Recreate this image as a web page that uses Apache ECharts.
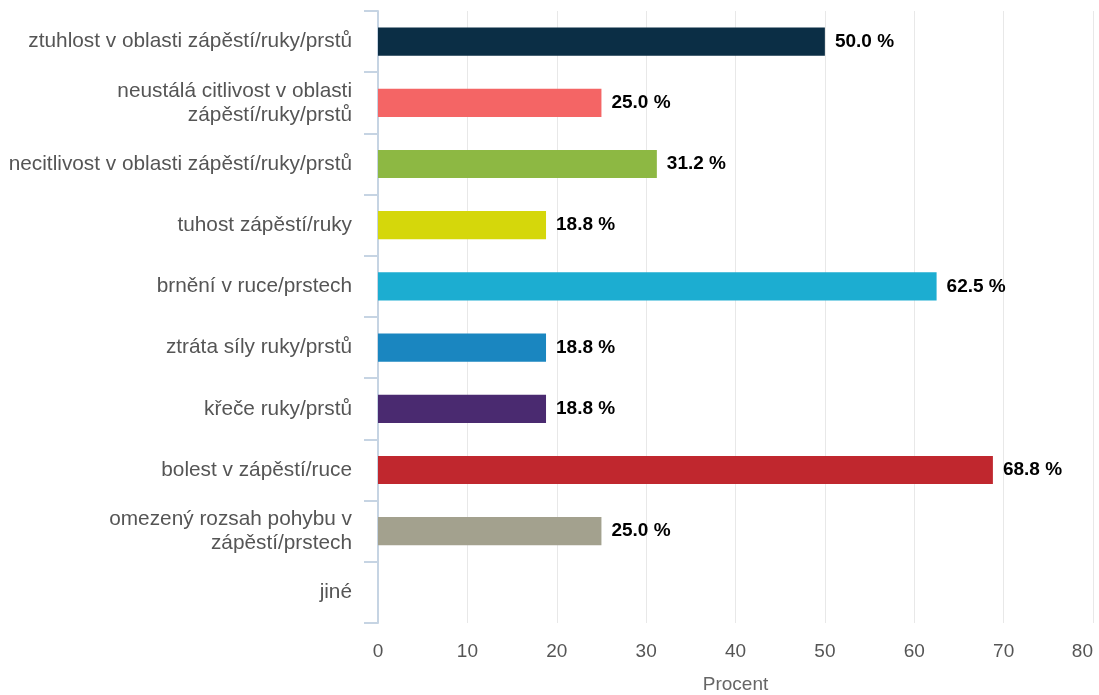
<!DOCTYPE html>
<html>
<head>
<meta charset="utf-8">
<script src="https://cdn.jsdelivr.net/npm/echarts@6/dist/echarts.min.js"></script>
<style>
  html, body { margin: 0; padding: 0; background: #fff; }
  #chart { width: 1099px; height: 695px; }
</style>
</head>
<body>
<div id="chart"></div>
<script>
// Symptoms reported (share of respondents, %)
const categories = [
  'ztuhlost v oblasti zápěstí/ruky/prstů',
  'neustálá citlivost v oblasti\nzápěstí/ruky/prstů',
  'necitlivost v oblasti zápěstí/ruky/prstů',
  'tuhost zápěstí/ruky',
  'brnění v ruce/prstech',
  'ztráta síly ruky/prstů',
  'křeče ruky/prstů',
  'bolest v zápěstí/ruce',
  'omezený rozsah pohybu v\nzápěstí/prstech',
  'jiné'
];
const values = [50.0, 25.0, 31.2, 18.8, 62.5, 18.8, 18.8, 68.8, 25.0, 0];
const barColors = [
  '#0b2e45', '#f46565', '#8db843', '#d5d70b', '#1cadd1',
  '#1a86c0', '#4a2a70', '#c0272e', '#a3a18e', '#999999'
];
const xTicks = { min: 0, max: 80, interval: 10 };
const axisTitle = 'Procent';

const FONT = 'Liberation Sans, Arial, sans-serif';

const chart = echarts.init(document.getElementById('chart'));
chart.setOption({
  animation: false,
  grid: { left: 378, right: 6, top: 11, bottom: 72, containLabel: false, outerBoundsMode: 'none' },
  xAxis: {
    type: 'value',
    min: xTicks.min, max: xTicks.max, interval: xTicks.interval,
    name: axisTitle,
    nameLocation: 'middle',
    nameGap: 52,
    nameTextStyle: { color: '#666', fontSize: 19, fontFamily: FONT },
    axisLine: { show: false },
    axisTick: { show: false },
    axisLabel: { color: '#555', fontSize: 19, margin: 19, fontFamily: FONT, alignMaxLabel: 'right' },
    splitLine: { show: true, lineStyle: { color: '#e8e8e8', width: 1 } }
  },
  yAxis: {
    type: 'category',
    inverse: true,
    data: categories,
    axisLine: { show: true, lineStyle: { color: '#c6d4e3', width: 2 } },
    axisTick: { show: true, length: 14, lineStyle: { color: '#c6d4e3', width: 2 } },
    axisLabel: {
      color: '#555', fontSize: 20.8, margin: 26, lineHeight: 24, align: 'right',
      fontFamily: FONT
    }
  },
  series: [{
    type: 'bar',
    barWidth: '46%',
    data: values.map((v, i) => ({ value: v, itemStyle: { color: barColors[i] } })),
    label: {
      show: true,
      position: 'right',
      distance: 10,
      color: '#000',
      fontWeight: 'bold',
      fontSize: 19,
      fontFamily: FONT,
      formatter: p => (p.value > 0 ? p.value.toFixed(1) + ' %' : '')
    }
  }]
});
</script>
</body>
</html>
